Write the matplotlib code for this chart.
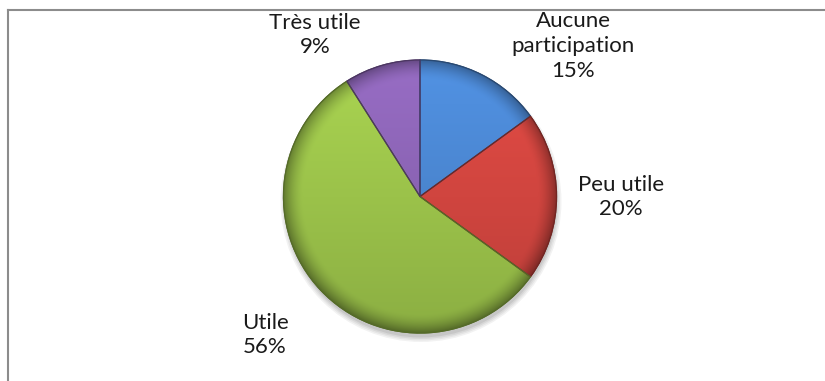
import numpy as np
import matplotlib.pyplot as plt
from matplotlib.patches import Circle, Wedge
from matplotlib.lines import Line2D
from matplotlib.colors import to_rgb

plt.rcParams['font.family'] = ['Lato', 'DejaVu Sans']

categories = ["Aucune\nparticipation", "Peu utile", "Utile", "Très utile"]
percents = [15, 20, 56, 9]
colors = ["#4a85cf", "#d0453f", "#9bc24a", "#8a63b3"]

# label anchor points in pixel units (x from left, y from top)
label_pos = [(573, 46), (621, 197), (265, 335), (315, 35)]

W, H = 825, 381
cx, cy, R = 420, H - 196.5, 136.5

fig = plt.figure(figsize=(W / 100, H / 100), dpi=100)
ax = fig.add_axes([0, 0, 1, 1])

# soft shadow under the pie
for k, a in enumerate([0.05, 0.05, 0.06, 0.07]):
    ax.add_patch(Circle((cx + 1, cy - 5), R + 4 - k * 1.5, color="black",
                        alpha=a, lw=0, zorder=0))


def darker(c, f):
    return tuple(np.array(to_rgb(c)) * f)


wedges, _ = ax.pie(percents, colors=colors, startangle=90, counterclock=False,
                   center=(cx, cy), radius=R, frame=True,
                   wedgeprops=dict(linewidth=0.9, zorder=2))

# bevel-like shading clipped to each slice
n = 400
gx, gy = np.meshgrid(np.linspace(-1, 1, n), np.linspace(-1, 1, n))
rr = np.hypot(gx, gy)
rim = np.clip((rr - 0.86) / 0.14, 0, 1) ** 1.6
shade = 1.0 + 0.10 * gy - 0.35 * rim
for w, c in zip(wedges, colors):
    w.set_edgecolor(darker(c, 0.55))
    img = np.clip(np.array(to_rgb(c))[None, None, :] * shade[:, :, None], 0, 1)
    im = ax.imshow(img, extent=[cx - R, cx + R, cy - R, cy + R],
                   origin="lower", zorder=2.5, interpolation="bilinear")
    im.set_clip_path(w)
    ax.add_patch(Wedge((cx, cy), R, w.theta1, w.theta2, facecolor="none",
                       edgecolor=darker(c, 0.55), linewidth=0.9, zorder=3))

for name, p, (x, y) in zip(categories, percents, label_pos):
    ax.text(x, H - y, f"{name}\n{p}%", ha="center", va="center",
            fontsize=16, color="#1a1a1a", linespacing=1.3, zorder=4)

ax.set_xlim(0, W)
ax.set_ylim(0, H)
ax.set_aspect("equal")
ax.axis("off")

# chart frame (only top and left edges fall inside the image)
fig.add_artist(Line2D([8 / W, 8 / W], [0, 1 - 10 / H], color="#8c8c8c",
                      lw=1.5, transform=fig.transFigure))
fig.add_artist(Line2D([8 / W, 1], [1 - 10 / H, 1 - 10 / H], color="#8c8c8c",
                      lw=1.5, transform=fig.transFigure))

fig.savefig("out.png", dpi=100)
